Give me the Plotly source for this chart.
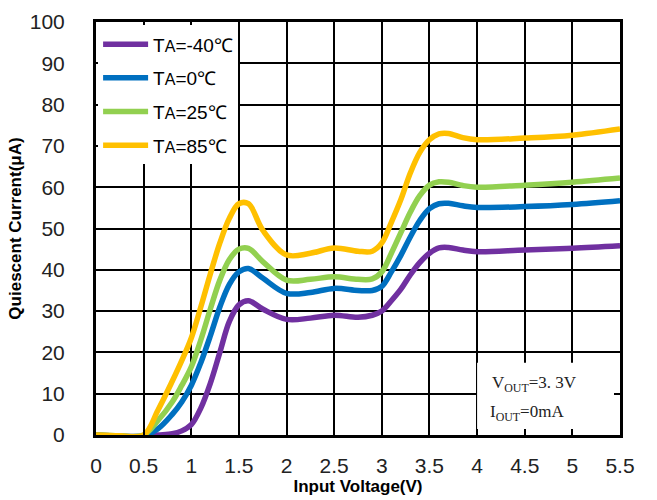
import plotly.graph_objects as go

vin = [0, 0.25, 0.5, 0.65, 0.8, 0.9, 1.0, 1.1, 1.2, 1.3, 1.4, 1.5, 1.6, 1.75, 2.0, 2.25, 2.5, 2.75, 2.9,
       3.0, 3.1, 3.2, 3.3, 3.4, 3.5, 3.6, 3.7, 3.85, 4.0, 4.5, 5.0, 5.5]

iq_m40 = [0, -0.3, -0.3, 0, 0.3, 1, 2.5, 6.5, 12.5, 20, 27.5, 31.5, 32.5, 30.5, 28, 28.3, 29, 28.5, 29,
          30, 32.5, 35.3, 38.8, 41.8, 44, 45.3, 45.4, 44.8, 44.4, 44.8, 45.2, 45.8]
iq_0 = [0, -0.3, -0.2, 1.5, 5, 8, 12, 17.5, 24, 31, 36.5, 39.5, 40.3, 38, 34.3, 34.5, 35.5, 35, 35,
        36, 39.5, 43.5, 48, 52, 54.8, 56, 56.1, 55.5, 55.1, 55.3, 55.8, 56.7]
iq_25 = [0, -0.2, 0, 3.5, 8, 12, 16.5, 23, 30.5, 37.5, 42.5, 45, 45.2, 42, 37.5, 37.7, 38.3, 37.7, 37.8,
         39.5, 44, 49, 54, 58, 60.5, 61.3, 61.2, 60.4, 60, 60.5, 61.2, 62.2]
iq_85 = [0, -0.2, 0, 6, 13, 18, 23.5, 31, 39, 46.5, 52.5, 56, 56, 49.6, 43.6, 44, 45.3, 44.5, 44.5,
         46.5, 51.5, 57, 63.5, 68.5, 71.5, 72.9, 73, 72, 71.5, 71.9, 72.6, 74.1]

series_names = ["T<span style='font-size:16px'>A</span>=-40℃", "T<span style='font-size:16px'>A</span>=0℃",
                "T<span style='font-size:16px'>A</span>=25℃", "T<span style='font-size:16px'>A</span>=85℃"]
series_vals = [iq_m40, iq_0, iq_25, iq_85]
series_colors = ["#7030A0", "#0070C0", "#92D050", "#FFC000"]

x_ticks = [0, 0.5, 1, 1.5, 2, 2.5, 3, 3.5, 4, 4.5, 5, 5.5]
x_ticktext = ["0", "0.5", "1", "1.5", "2", "2.5", "3", "3.5", "4", "4.5", "5", "5.5"]
y_ticks = list(range(0, 101, 10))

fig = go.Figure()
for i, (name, vals, col) in enumerate(zip(series_names, series_vals, series_colors)):
    fig.add_trace(go.Scatter(x=vin, y=vals, mode="lines", name=name, legendgroup=f"g{i}",
                             line=dict(color=col, width=5.5, shape="spline", smoothing=1.0)))

fig.add_shape(type="rect", xref="x", yref="y", x0=4.0, x1=5.5, y0=0, y1=17.5,
              fillcolor="white", line=dict(width=0), layer="between")

fig.add_annotation(x=4.6, y=12.3, xref="x", yref="y", showarrow=False,
                   text="V<sub>OUT</sub>=3. 3V",
                   font=dict(family="Liberation Serif, DejaVu Serif, serif", size=17, color="#222"))
fig.add_annotation(x=4.52, y=5.3, xref="x", yref="y", showarrow=False,
                   text="I<sub>OUT</sub>=0mA",
                   font=dict(family="Liberation Serif, DejaVu Serif, serif", size=17, color="#222"))

axis_common = dict(showgrid=True, gridcolor="black", gridwidth=2, showline=True, linecolor="black",
                   linewidth=3, mirror="ticks", ticks="inside", ticklen=6, tickwidth=2, tickcolor="black",
                   zeroline=False, automargin=False,
                   tickfont=dict(family="Liberation Sans, Arial, sans-serif", size=21, color="#222"))

fig.update_xaxes(range=[0, 5.5], tickvals=x_ticks, ticktext=x_ticktext,
                 title=dict(text="<b>Input Voltage(V)</b>", standoff=4,
                            font=dict(family="Liberation Sans, Arial, sans-serif", size=17, color="black")),
                 ticklabelstandoff=10, **axis_common)
fig.update_yaxes(range=[0, 100], tickvals=y_ticks,
                 title=dict(text="<b>Quiescent Current(μA)</b>", standoff=4,
                            font=dict(family="Liberation Sans, Arial, sans-serif", size=17, color="black")),
                 ticklabelstandoff=24, **axis_common)

fig.update_layout(
    width=657, height=500,
    margin=dict(l=96, r=37, t=22, b=65),
    plot_bgcolor="white", paper_bgcolor="white",
    showlegend=True,
    legend=dict(x=0.004, y=0.992, xanchor="left", yanchor="top", bgcolor="white", borderwidth=0,
                font=dict(family="Liberation Sans, Arial, sans-serif", size=19, color="black"),
                itemwidth=45, tracegroupgap=6),
)

fig.write_html("out.html")
